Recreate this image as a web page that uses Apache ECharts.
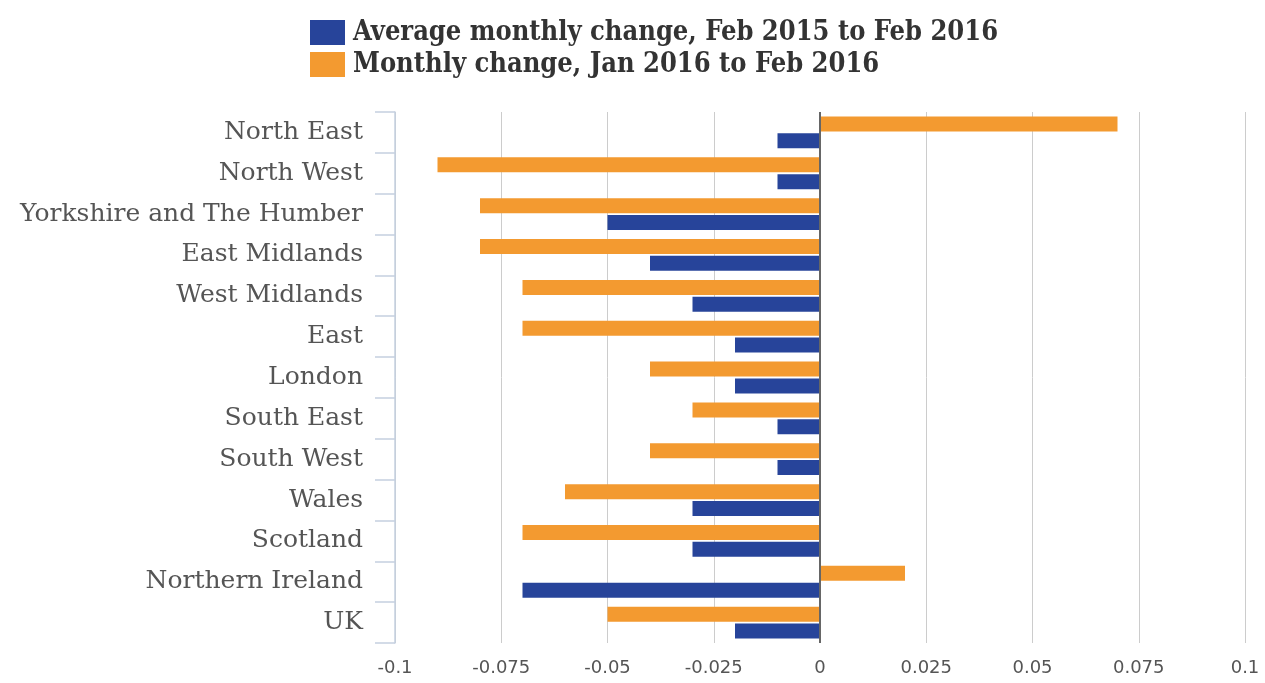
<!DOCTYPE html>
<html>
<head>
<meta charset="utf-8">
<script src="https://cdn.jsdelivr.net/npm/echarts@6/dist/echarts.min.js"></script>
<style>
  html, body { margin: 0; padding: 0; background: #fff; }
  #myChart { width: 1265px; height: 683px; }
</style>
</head>
<body>
<div id="myChart"></div>
<script>
// regions, top to bottom
const regions = [
  "North East", "North West", "Yorkshire and The Humber", "East Midlands",
  "West Midlands", "East", "London", "South East", "South West",
  "Wales", "Scotland", "Northern Ireland", "UK"
];
const avgChange = [-0.01, -0.01, -0.05, -0.04, -0.03, -0.02, -0.02, -0.01, -0.01, -0.03, -0.03, -0.07, -0.02];
const monthChange = [0.07, -0.09, -0.08, -0.08, -0.07, -0.07, -0.04, -0.03, -0.04, -0.06, -0.07, 0.02, -0.05];
const xTicks = [-0.1, 0.1, 0.025];

const avgName = "Average monthly change, Feb 2015 to Feb 2016";
const monthName = "Monthly change, Jan 2016 to Feb 2016";

let myChart = echarts.init(document.getElementById("myChart"));
myChart.setOption({
  animation: false,
  legend: {
    orient: "vertical",
    left: 305,
    top: 14,
    itemWidth: 35,
    itemHeight: 25,
    itemGap: 5,
    icon: "rect",
    textStyle: {
      fontFamily: "'DejaVu Serif Condensed', 'DejaVu Serif', serif",
      fontWeight: "bold",
      fontSize: 27,
      color: "#333",
      padding: [0, 0, 0, 3]
    },
    data: [avgName, monthName]
  },
  grid: { left: 395, right: 20, top: 112, bottom: 40, containLabel: false },
  xAxis: {
    type: "value",
    min: xTicks[0],
    max: xTicks[1],
    interval: xTicks[2],
    axisLine: { show: false },
    axisTick: { show: false },
    splitLine: { lineStyle: { color: "#ccc", width: 1 } },
    axisLabel: {
      fontFamily: "'DejaVu Sans', sans-serif",
      fontSize: 18,
      color: "#555",
      margin: 16
    }
  },
  yAxis: {
    type: "category",
    inverse: true,
    data: regions,
    axisLine: { show: true, onZero: false, lineStyle: { color: "#c5d0e0", width: 1.5 } },
    axisTick: { show: true, length: 20, lineStyle: { color: "#c5d0e0", width: 1.5 } },
    axisLabel: {
      fontFamily: "'DejaVu Serif', serif",
      fontSize: 25,
      color: "#555",
      margin: 32
    }
  },
  series: [
    {
      name: monthName,
      type: "bar",
      data: monthChange,
      barWidth: 15,
      barGap: "12%",
      itemStyle: { color: "#f39a30" },
      markLine: {
        silent: true,
        symbol: "none",
        label: { show: false },
        lineStyle: { color: "#666", type: "solid", width: 2 },
        data: [{ xAxis: 0 }]
      }
    },
    {
      name: avgName,
      type: "bar",
      data: avgChange,
      barWidth: 15,
      barGap: "12%",
      itemStyle: { color: "#27449a" }
    }
  ]
});
</script>
</body>
</html>
